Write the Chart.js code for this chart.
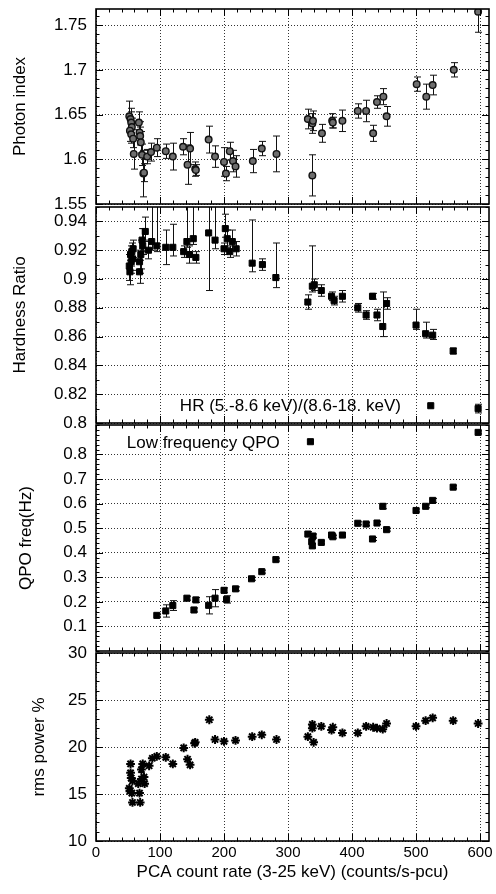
<!DOCTYPE html>
<html lang="en">
<head>
<meta charset="utf-8">
<title>PCA count rate correlations</title>
<script src="https://cdn.jsdelivr.net/npm/chart.js@4.4.1/dist/chart.umd.min.js"></script>
<style>
  body { margin: 0; background: #fff; }
  #wrap { position: relative; width: 496px; height: 894px; overflow: hidden; }
  #wrap canvas { position: absolute; left: 0; }
</style>
</head>
<body>
<div id="wrap">
  <canvas id="panel1"></canvas>
  <canvas id="panel2"></canvas>
  <canvas id="panel3"></canvas>
  <canvas id="panel4"></canvas>
</div>
<script>
// shared x axis (PCA count rate, counts/s-pcu)
const rateTicks = [0, 100, 200, 300, 400, 500, 600];
const rateMax = 614;

// panel 1: photon index
const p1Ticks = [1.55, 1.6, 1.65, 1.7, 1.75];
const p1Rate = [52, 54, 55, 56, 53, 55, 58, 59, 67, 68, 69, 70, 72, 74, 75, 80, 86, 95, 109, 120, 136, 143, 147, 155, 156,
  176, 186, 200, 203, 209, 214, 218, 245, 259, 282, 331, 338, 339, 338, 353, 369, 370, 385, 409, 422, 433, 439, 449, 454,
  501, 516, 526, 559, 597];
const p1Index = [1.648, 1.645, 1.641, 1.636, 1.632, 1.628, 1.623, 1.606, 1.641, 1.630, 1.626, 1.619, 1.605, 1.584, 1.585,
  1.603, 1.608, 1.613, 1.609, 1.603, 1.614, 1.594, 1.612, 1.589, 1.588, 1.622, 1.603, 1.597, 1.584, 1.609, 1.598, 1.592,
  1.598, 1.612, 1.606, 1.645, 1.640, 1.643, 1.582, 1.629, 1.643, 1.641, 1.643, 1.654, 1.654, 1.629, 1.664, 1.670, 1.648,
  1.684, 1.670, 1.683, 1.700, 1.765];
const p1Err = [0.017, 0.012, 0.012, 0.010, 0.012, 0.010, 0.010, 0.017, 0.012, 0.012, 0.010, 0.012, 0.012, 0.026, 0.010,
  0.008, 0.010, 0.010, 0.008, 0.015, 0.009, 0.022, 0.018, 0.008, 0.006, 0.015, 0.012, 0.016, 0.008, 0.010, 0.012, 0.012,
  0.013, 0.008, 0.020, 0.011, 0.011, 0.011, 0.023, 0.010, 0.008, 0.006, 0.012, 0.008, 0.012, 0.009, 0.007, 0.009, 0.011,
  0.008, 0.014, 0.011, 0.008, 0.023];

// panel 2: hardness ratio
const p2Ticks = [0.8, 0.82, 0.84, 0.86, 0.88, 0.9, 0.92, 0.94];
const p2Rate = [52, 54, 55, 56, 53, 57, 58, 68, 68, 70, 72, 73, 77, 82, 87, 95, 109, 120, 137, 142, 146, 152, 156,
  176, 186, 200, 202, 205, 209, 213, 219, 244, 260, 281, 331, 338, 341, 352, 368, 372, 385, 409, 422, 432, 439, 448, 454,
  500, 515, 526, 558, 523, 597];
const p2Ratio = [0.909, 0.917, 0.912, 0.919, 0.905, 0.914, 0.921, 0.912, 0.905, 0.917, 0.927, 0.923, 0.933, 0.920, 0.926,
  0.923, 0.922, 0.922, 0.919, 0.926, 0.917, 0.928, 0.915, 0.932, 0.927, 0.921, 0.935, 0.928, 0.919, 0.926, 0.921, 0.911,
  0.910, 0.901, 0.884, 0.895, 0.896, 0.892, 0.888, 0.885, 0.888, 0.880, 0.875, 0.888, 0.875, 0.867, 0.883, 0.868, 0.862,
  0.861, 0.850, 0.812, 0.810];
const p2ErrHi = [0.008, 0.006, 0.008, 0.006, 0.008, 0.006, 0.006, 0.008, 0.008, 0.010, 0.008, 0.012, 0.010, 0.006, 0.030,
  0.030, 0.012, 0.016, 0.004, 0.030, 0.006, 0.030, 0.004, 0.040, 0.030, 0.004, 0.010, 0.006, 0.004, 0.008, 0.005, 0.030,
  0.004, 0.024, 0.005, 0.028, 0.004, 0.004, 0.003, 0.003, 0.004, 0.003, 0.003, 0.002, 0.004, 0.024, 0.004, 0.011, 0.008,
  0.004, 0.002, 0, 0.003];
const p2ErrLo = [0.010, 0.008, 0.008, 0.006, 0.009, 0.008, 0.006, 0.008, 0.008, 0.010, 0.008, 0.006, 0.006, 0.006, 0.006,
  0.004, 0.012, 0.006, 0.004, 0.004, 0.006, 0.004, 0.004, 0.040, 0.006, 0.004, 0.006, 0.006, 0.004, 0.006, 0.005, 0.006,
  0.004, 0.007, 0.005, 0.004, 0.004, 0.004, 0.003, 0.003, 0.004, 0.003, 0.003, 0.002, 0.004, 0.007, 0.004, 0.003, 0.003,
  0.003, 0.002, 0, 0.003];

// panel 3: low frequency QPO
const p3Ticks = [0.1, 0.2, 0.3, 0.4, 0.5, 0.6, 0.7, 0.8];
const p3Rate = [95, 109, 120, 142, 153, 156, 176, 186, 200, 204, 218, 243, 259, 281, 331, 335, 337, 338, 339, 352, 368,
  370, 385, 409, 422, 432, 439, 448, 454, 500, 515, 526, 558, 597];
const p3Freq = [0.145, 0.163, 0.185, 0.215, 0.167, 0.208, 0.186, 0.215, 0.247, 0.210, 0.253, 0.294, 0.323, 0.372, 0.476,
  0.852, 0.445, 0.428, 0.468, 0.442, 0.472, 0.465, 0.472, 0.520, 0.517, 0.456, 0.521, 0.589, 0.494, 0.572, 0.589, 0.613,
  0.667, 0.890];
const p3Err = [0.006, 0.025, 0.020, 0.008, 0.008, 0.010, 0.035, 0.035, 0.010, 0.015, 0.008, 0.006, 0.006, 0.006, 0.010,
  0, 0.008, 0.008, 0.008, 0.006, 0.008, 0.006, 0.006, 0.006, 0.006, 0.006, 0.006, 0.010, 0.006, 0.006, 0.006, 0.008,
  0.006, 0.006];

// panel 4: rms power
const p4Ticks = [10, 15, 20, 25, 30];
const p4Rate = [54, 54, 55, 57, 52, 53, 56, 57, 69, 68, 66, 71, 71, 73, 75, 76, 83, 88, 95, 109, 120, 137, 143, 147, 154,
  155, 177, 186, 200, 218, 244, 259, 282, 331, 340, 338, 338, 352, 368, 370, 385, 409, 422, 433, 439, 448, 454, 500, 515,
  526, 558, 597];
const p4Rms = [18.2, 17.25, 16.7, 16.4, 15.6, 15.3, 15.1, 14.1, 14.1, 15.1, 16.1, 16.6, 17.6, 18.2, 16.8, 16.1, 18.0,
  18.8, 19.0, 18.9, 18.2, 19.9, 18.7, 18.1, 20.4, 20.5, 22.9, 20.8, 20.6, 20.7, 21.1, 21.3, 20.8, 21.1, 20.5, 22.4, 22.0,
  22.2, 21.8, 22.1, 21.5, 21.5, 22.2, 22.1, 22.0, 21.9, 22.5, 22.2, 22.8, 23.1, 22.8, 22.5];

const FONT = '"Liberation Sans", Arial, Helvetica, sans-serif';
Chart.defaults.font.family = FONT;
Chart.defaults.color = '#000';

const toPoints = (xs, ys, lo, hi) => xs.map((v, i) => ({ x: v, y: ys[i], lo: lo ? lo[i] : 0, hi: hi ? hi[i] : 0 }));

// vertical error bars with caps, taken from the first dataset
const errorBars = {
  id: 'errorBars',
  beforeDatasetsDraw(chart) {
    const { ctx, chartArea: a, scales: { x, y } } = chart;
    ctx.save();
    ctx.beginPath();
    ctx.rect(a.left, a.top, a.right - a.left, a.bottom - a.top);
    ctx.clip();
    ctx.strokeStyle = '#111';
    ctx.lineWidth = 1;
    ctx.beginPath();
    chart.data.datasets[0].data.forEach(p => {
      if (!p.lo && !p.hi) return;
      const px = Math.round(x.getPixelForValue(p.x)) + 0.5;
      const top = y.getPixelForValue(p.y + p.hi);
      const bot = y.getPixelForValue(p.y - p.lo);
      ctx.moveTo(px, top); ctx.lineTo(px, bot);
      ctx.moveTo(px - 3.5, top); ctx.lineTo(px + 3.5, top);
      ctx.moveTo(px - 3.5, bot); ctx.lineTo(px + 3.5, bot);
    });
    ctx.stroke();
    ctx.restore();
  }
};

// box around the plot + inward major/minor ticks on all four sides
const frame = {
  id: 'frame',
  afterDraw(chart, args, opts) {
    const { ctx, chartArea: a, scales: { x, y } } = chart;
    const near = (list, v, step) => list.some(m => Math.abs(m - v) < step / 10);
    const steps = (s, step) => {
      const out = [];
      for (let i = Math.ceil(s.min / step - 1e-6); i <= Math.floor(s.max / step + 1e-6); i++) out.push(i * step);
      return out;
    };
    const xMajor = x.ticks.map(t => t.value);
    const yMajor = y.ticks.map(t => t.value);
    ctx.save();
    ctx.strokeStyle = '#000';
    ctx.lineWidth = 1;
    ctx.beginPath();
    steps(x, opts.xMinor).forEach(v => {
      const len = near(xMajor, v, opts.xMinor) ? 7 : 3.5;
      const px = Math.round(x.getPixelForValue(v)) + 0.5;
      ctx.moveTo(px, a.bottom); ctx.lineTo(px, a.bottom - len);
      ctx.moveTo(px, a.top); ctx.lineTo(px, a.top + len);
    });
    steps(y, opts.yMinor).forEach(v => {
      const len = near(yMajor, v, opts.yMinor) ? 7 : 3.5;
      const py = Math.round(y.getPixelForValue(v)) + 0.5;
      ctx.moveTo(a.left, py); ctx.lineTo(a.left + len, py);
      ctx.moveTo(a.right, py); ctx.lineTo(a.right - len, py);
    });
    ctx.stroke();
    ctx.lineWidth = 1.6;
    ctx.strokeRect(a.left, a.top, a.right - a.left, a.bottom - a.top);
    ctx.restore();
  }
};

// free text labels inside a panel, placed in data units
const notes = {
  id: 'notes',
  afterDraw(chart, args, opts) {
    if (!opts.items || !opts.items.length) return;
    const { ctx, scales: { x, y } } = chart;
    ctx.save();
    ctx.fillStyle = '#000';
    ctx.font = '17px ' + FONT;
    ctx.textBaseline = 'middle';
    opts.items.forEach(n => ctx.fillText(n.text, x.getPixelForValue(n.x), y.getPixelForValue(n.y)));
    ctx.restore();
  }
};

const makePanel = (id, cfg) => {
  const canvas = document.getElementById(id);
  canvas.width = 496;
  canvas.height = cfg.height;
  canvas.style.top = cfg.top + 'px';
  const bottomAxis = !!cfg.xTitle;

  return new Chart(canvas, {
    type: 'scatter',
    data: { datasets: cfg.datasets },
    options: {
      responsive: false,
      animation: false,
      events: [],
      layout: { padding: { top: cfg.padTop, bottom: cfg.padBottom, left: 0, right: 7 } },
      plugins: {
        legend: { display: false },
        tooltip: { enabled: false },
        frame: { xMinor: 20, yMinor: cfg.yMinor },
        notes: { items: cfg.notes || [] }
      },
      scales: {
        x: {
          type: 'linear',
          min: 0,
          max: rateMax,
          afterBuildTicks: s => { s.ticks = rateTicks.map(v => ({ value: v })); },
          afterFit: s => { s.height = bottomAxis ? 50 : 0; s.paddingLeft = 0; s.paddingRight = 0; },
          ticks: { display: bottomAxis, font: { size: 15 }, padding: 3, maxRotation: 0, autoSkip: false },
          grid: { color: '#333', lineWidth: 1, drawTicks: false },
          border: { display: false, dash: [1, 2] },
          title: { display: bottomAxis, text: cfg.xTitle || '', font: { size: 17 }, padding: { top: 0, bottom: 8 } }
        },
        y: {
          type: 'linear',
          min: cfg.yMin,
          max: cfg.yMax,
          afterBuildTicks: s => { s.ticks = cfg.yTicks.map(v => ({ value: v })); },
          afterFit: s => { s.width = 96; s.paddingTop = 0; s.paddingBottom = 0; },
          ticks: { font: { size: 17 }, padding: 9, autoSkip: false, callback: v => String(+v.toFixed(3)) },
          grid: { color: '#333', lineWidth: 1, drawTicks: false },
          border: { display: false, dash: [1, 2] },
          title: { display: true, text: cfg.yTitle, font: { size: 17 }, padding: { top: cfg.titlePad, bottom: 0 } }
        }
      }
    },
    plugins: [errorBars, frame, notes]
  });
};

const p1Points = toPoints(p1Rate, p1Index, p1Err, p1Err);
makePanel('panel1', {
  top: 0, height: 216, padTop: 9, padBottom: 12,
  yMin: 1.55, yMax: 1.768, yTicks: p1Ticks, yMinor: 0.01,
  yTitle: 'Photon index', titlePad: 10,
  datasets: [
    { data: p1Points, pointStyle: 'circle', pointRadius: 3.3, backgroundColor: '#6e6e6e', borderColor: '#111', borderWidth: 1.4 },
    { data: p1Points, pointStyle: 'cross', pointRadius: 3.3, borderColor: '#111', borderWidth: 1 }
  ]
});

makePanel('panel2', {
  top: 195, height: 240, padTop: 12, padBottom: 12,
  yMin: 0.8, yMax: 0.95, yTicks: p2Ticks, yMinor: 0.01,
  yTitle: 'Hardness Ratio', titlePad: 10,
  notes: [{ text: 'HR (5.-8.6 keV)/(8.6-18. keV)', x: 131, y: 0.8118 }],
  datasets: [
    { data: toPoints(p2Rate, p2Ratio, p2ErrLo, p2ErrHi), pointStyle: 'rect', pointRadius: 4.3, backgroundColor: '#000', borderColor: '#000', borderWidth: 1 }
  ]
});

makePanel('panel3', {
  top: 413, height: 250, padTop: 12, padBottom: 12,
  yMin: 0, yMax: 0.92, yTicks: p3Ticks, yMinor: 0.02,
  yTitle: 'QPO freq(Hz)', titlePad: 16,
  notes: [{ text: 'Low frequency QPO', x: 48, y: 0.845 }],
  datasets: [
    { data: toPoints(p3Rate, p3Freq, p3Err, p3Err), pointStyle: 'rect', pointRadius: 4.3, backgroundColor: '#000', borderColor: '#000', borderWidth: 1 }
  ]
});

makePanel('panel4', {
  top: 641, height: 253, padTop: 12, padBottom: 3,
  yMin: 10, yMax: 30, yTicks: p4Ticks, yMinor: 1,
  yTitle: 'rms power %', titlePad: 29,
  xTitle: 'PCA count rate (3-25 keV) (counts/s-pcu)',
  datasets: [
    { data: toPoints(p4Rate, p4Rms), pointStyle: 'star', pointRadius: 4.4, borderColor: '#000', borderWidth: 2 }
  ]
});
</script>
</body>
</html>
